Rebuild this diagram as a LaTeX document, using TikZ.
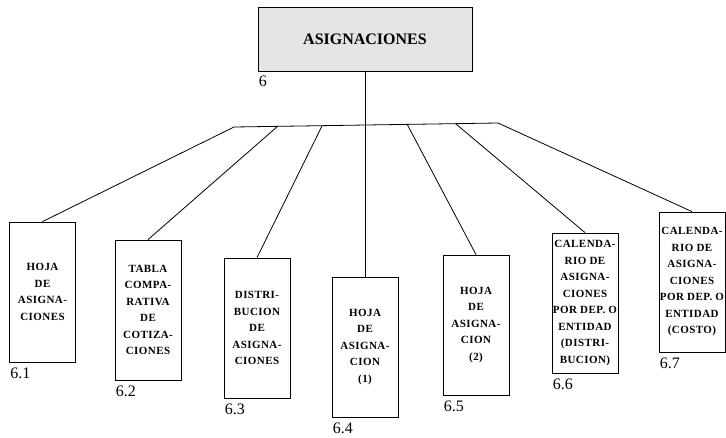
\documentclass[tikz,border=0pt]{standalone}
\usepackage{fontspec}
\setmainfont{Liberation Serif}
\newfontfamily\boxfont[LetterSpace=4]{Liberation Serif}
\usepackage{tikz}
\usetikzlibrary{positioning}
\definecolor{headgray}{RGB}{228, 228, 228}
\tikzset{
    headbox/.style={
        rectangle,
        draw=black,
        fill=headgray,
        line width=0.8pt,
        minimum width=214pt,
        minimum height=64pt,
        inner sep=0pt,
        font=\bfseries\fontsize{16}{18}\selectfont
    },
    itembox/.style={
        rectangle,
        draw=black,
        line width=0.8pt,
        minimum width=66pt,
        minimum height=140pt,
        inner sep=0pt,
        align=center,
        font=\boxfont\bfseries\fontsize{11}{16.5}\selectfont
    },
    numlabel/.style={
        inner sep=0pt,
        font=\fontsize{16}{18}\selectfont
    },
    link/.style={
        line width=0.8pt
    }
}

\begin{document}
\begin{tikzpicture}[x=1pt, y=-1pt]
    \useasboundingbox (0,0) rectangle (726,437);
    \node[headbox] (top) at (365,39) {ASIGNACIONES};
    \node[numlabel, below right=4pt and 1pt of top.south west] (l6) {6};
    \foreach \n/\x/\y/\txt in {
        1/42.5/292/{HOJA\\DE\\ASIGNA-\\CIONES},
        2/148/310/{TABLA\\COMPA-\\RATIVA\\DE\\COTIZA-\\CIONES},
        3/257/328/{DISTRI-\\BUCION\\DE\\ASIGNA-\\CIONES},
        4/365/347/{HOJA\\DE\\ASIGNA-\\CION\\(1)},
        5/476/325/{HOJA\\DE\\ASIGNA-\\CION\\(2)},
        6/585/303/{CALENDA-\\RIO DE\\ASIGNA-\\CIONES\\POR DEP. O\\ENTIDAD\\(DISTRI-\\BUCION)},
        7/692/282/{CALENDA-\\RIO DE\\ASIGNA-\\CIONES\\POR DEP. O\\ENTIDAD\\(COSTO)}} {
        \node[itembox] (b\n) at (\x,\y) {\txt};
        \node[numlabel, below right=5pt and 1pt of b\n.south west] (l\n) {6.\n};
    }
    % junctions on the bar
    \foreach \n/\x/\y in {1/234/127, 2/278/126, 3/322/126, 4/365/125, 5/407/124, 6/456/124, 7/498/123} {
        \coordinate (j\n) at (\x,\y);
    }
    \draw[link] (j1) -- (j7);
    \draw[link] (top.south) -- (b4.north);
    \foreach \n in {1,2,3,5,6,7} {
        \draw[link] (j\n) -- (b\n.north);
    }
\end{tikzpicture}
\end{document}
